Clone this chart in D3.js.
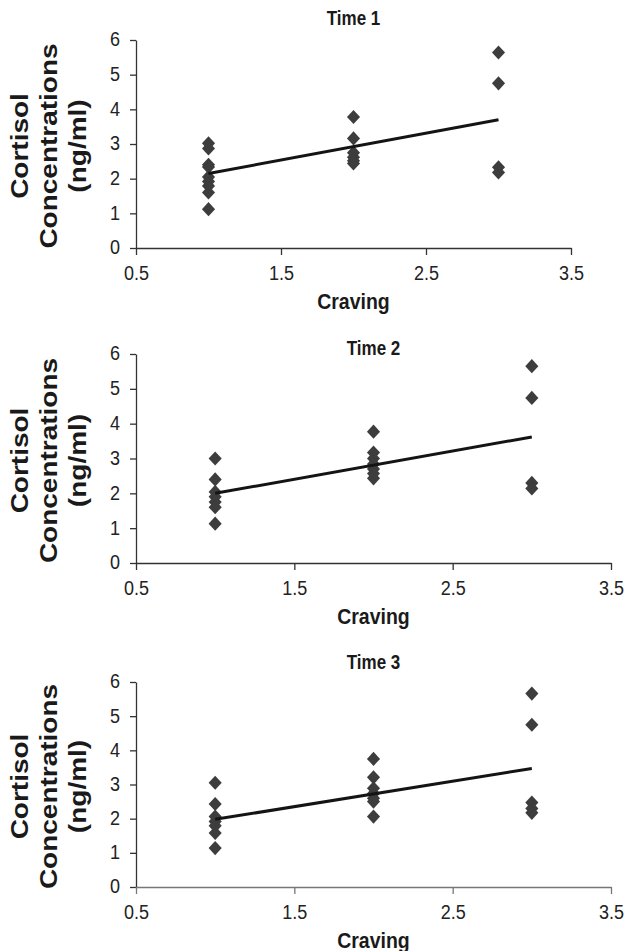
<!DOCTYPE html>
<html>
<head>
<meta charset="utf-8">
<script src="https://cdn.jsdelivr.net/npm/d3@7"></script>
<style>
  body { margin: 0; background: #fff; }
  svg { display: block; }
  .tick text { font-family: "Liberation Sans", Arial, sans-serif; font-size: 18px; fill: #222; }
  .domain, .tick line { stroke: #333; stroke-width: 1.3; }
</style>
</head>
<body>
<svg id="chart" width="624" height="951"></svg>
<script>
// values: [craving, cortisol ng/ml]
const timeLabels = ['Time 1', 'Time 2', 'Time 3'];

const time1Points = [
  [1, 3.02], [1, 2.87], [1, 2.40], [1, 2.34], [1, 2.05], [1, 1.92], [1, 1.79], [1, 1.60], [1, 1.12],
  [2, 3.78], [2, 3.16], [2, 2.75], [2, 2.62], [2, 2.52], [2, 2.44],
  [3, 5.64], [3, 4.75], [3, 2.33], [3, 2.18]
];
const time2Points = [
  [1, 3.00], [1, 2.40], [1, 2.04], [1, 1.90], [1, 1.75], [1, 1.60], [1, 1.13],
  [2, 3.77], [2, 3.17], [2, 3.00], [2, 2.84], [2, 2.70], [2, 2.57], [2, 2.43],
  [3, 5.65], [3, 4.74], [3, 2.30], [3, 2.14]
];
const time3Points = [
  [1, 3.05], [1, 2.43], [1, 2.06], [1, 1.92], [1, 1.79], [1, 1.58], [1, 1.14],
  [2, 3.75], [2, 3.21], [2, 2.89], [2, 2.74], [2, 2.60], [2, 2.50], [2, 2.06],
  [3, 5.66], [3, 4.75], [3, 2.47], [3, 2.30], [3, 2.17]
];

// fitted line: cortisol at craving 1 and craving 3
const fitX = [1, 3];
const fitY = [[2.15, 3.70], [2.00, 3.62], [1.98, 3.47]];

const xTicks = [0.5, 1.5, 2.5, 3.5];
const yTicks = [0, 1, 2, 3, 4, 5, 6];
const yLabelLines = ['Cortisol', 'Concentrations', '(ng/ml)'];

const allPoints = [time1Points, time2Points, time3Points];

// layout (pixels)
const left = 136;
const panels = [
  {top: 40, bottom: 248, right: 571, titleY: 25, xAxisColor: '#333'},
  {top: 354, bottom: 563, right: 611, titleY: 355, xAxisColor: '#333'},
  {top: 682, bottom: 887, right: 611, titleY: 669, xAxisColor: '#777'}
];
const stretch = 1.16; // glyphs in the picture are a bit taller than normal

const svg = d3.select('#chart');
const diamond = d3.symbol(d3.symbolSquare, 86);

function drawPanel(i) {
  const p = panels[i];
  const x = d3.scaleLinear().domain([0.5, 3.5]).range([left, p.right]);
  const y = d3.scaleLinear().domain([0, 6]).range([p.bottom, p.top]);
  const g = svg.append('g');

  const yAxis = g.append('g')
    .attr('transform', `translate(${left},0)`)
    .call(d3.axisLeft(y).tickValues(yTicks).tickSize(6).tickSizeOuter(0).tickPadding(10).tickFormat(d3.format('d')));
  yAxis.selectAll('text').attr('transform', `scale(1,${stretch})`).attr('dy', '0.28em');

  const xAxis = g.append('g')
    .attr('transform', `translate(0,${p.bottom})`)
    .call(d3.axisBottom(x).tickValues(xTicks).tickSize(7).tickSizeOuter(0).tickPadding(8).tickFormat(d3.format('.1f')));
  xAxis.selectAll('text').attr('transform', `scale(1,${stretch})`);
  xAxis.selectAll('.domain, .tick line').style('stroke', p.xAxisColor);

  // title
  g.append('text')
    .attr('transform', `translate(${(left + p.right) / 2},${p.titleY}) scale(1,${stretch})`)
    .attr('text-anchor', 'middle')
    .style('font-family', '"Liberation Sans", Arial, sans-serif')
    .style('font-weight', 'bold')
    .style('font-size', '17px')
    .style('fill', '#1a1a1a')
    .text(timeLabels[i]);

  // x label
  g.append('text')
    .attr('transform', `translate(${(left + p.right) / 2},${p.bottom + 61}) scale(1,1.1)`)
    .attr('text-anchor', 'middle')
    .style('font-family', '"Liberation Sans", Arial, sans-serif')
    .style('font-weight', 'bold')
    .style('font-size', '19.5px')
    .style('fill', '#1a1a1a')
    .text('Craving');

  // y label, three rotated lines
  const cy = (p.top + p.bottom) / 2 + 2;
  yLabelLines.forEach((t, k) => {
    g.append('text')
      .attr('transform', `translate(${28 + k * 29},${cy}) rotate(-90) scale(1,0.88)`)
      .attr('text-anchor', 'middle')
      .style('font-family', '"Liberation Sans", Arial, sans-serif')
      .style('font-weight', 'bold')
      .style('font-size', '28px')
      .style('fill', '#1a1a1a')
      .text(t);
  });

  // points
  g.selectAll('.pt')
    .data(allPoints[i])
    .join('path')
    .attr('class', 'pt')
    .attr('d', diamond)
    .attr('transform', (d) => `translate(${x(d[0])},${y(d[1])}) scale(1,1.08) rotate(45)`)
    .style('fill', '#3d3d3d');

  // fit line
  g.append('line')
    .attr('x1', x(fitX[0]))
    .attr('x2', x(fitX[1]))
    .attr('y1', y(fitY[i][0]))
    .attr('y2', y(fitY[i][1]))
    .style('stroke', '#141414')
    .style('stroke-width', 3);
}

for (let i = 0; i < panels.length; i++) {
  drawPanel(i);
}
</script>
</body>
</html>
